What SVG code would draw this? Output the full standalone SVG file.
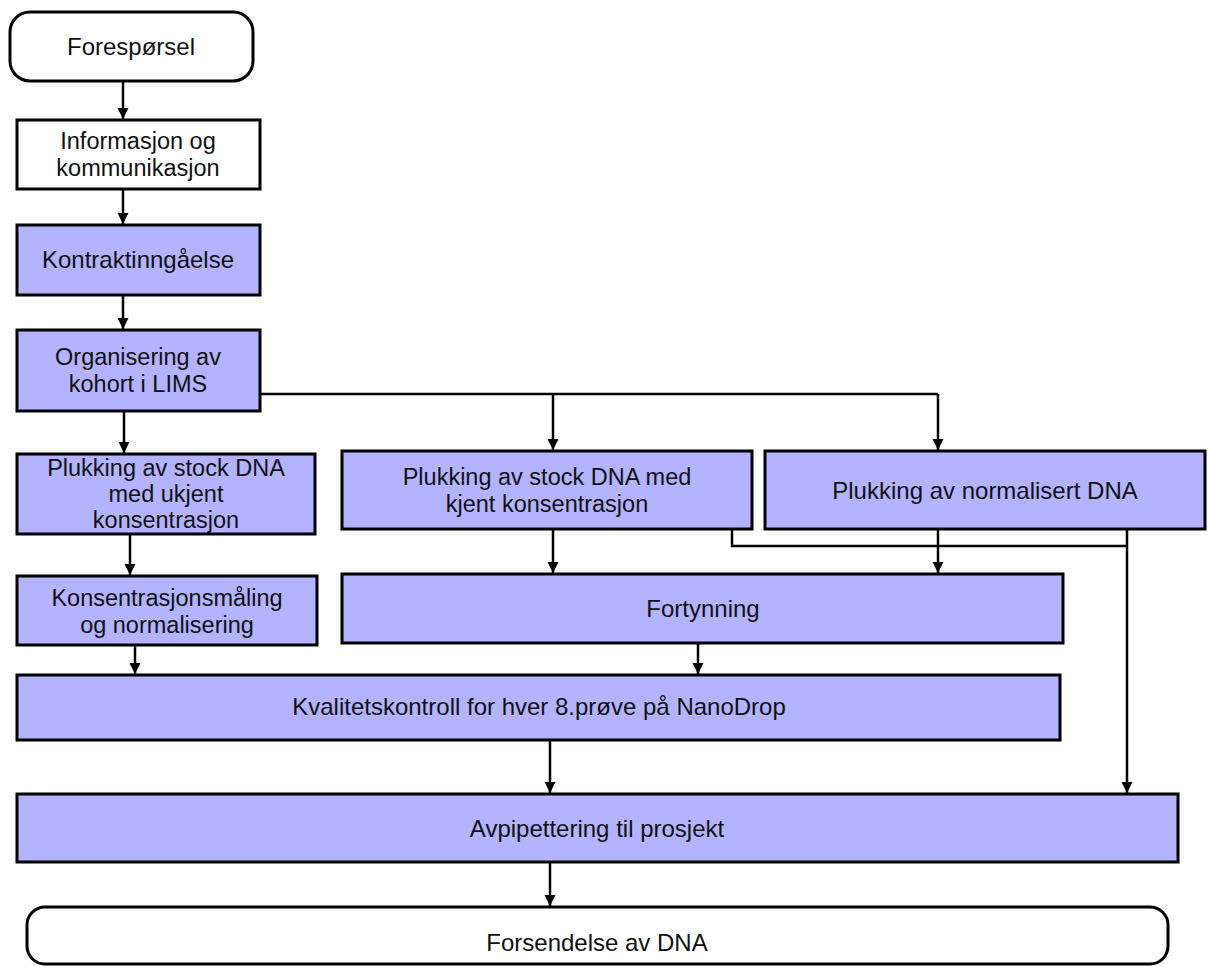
<svg xmlns="http://www.w3.org/2000/svg" width="1208" height="967" viewBox="0 0 1208 967">
<defs>
<marker id="ah" viewBox="0 0 10 10" refX="10" refY="5" markerWidth="11" markerHeight="13" markerUnits="userSpaceOnUse" orient="auto">
<path d="M0,0 L10,5 L0,10 z" fill="#000"/>
</marker>
<style>
.box{fill:#b3b3ff;stroke:#000;stroke-width:3}
.wbox{fill:#fff;stroke:#000;stroke-width:3}
.t{font-family:"Liberation Sans",Arial,sans-serif;font-size:24px;fill:#111;text-anchor:middle}
.m{font-size:23.5px}
.c{fill:none;stroke:#000;stroke-width:2.5}
.a{fill:none;stroke:#000;stroke-width:2.5;marker-end:url(#ah)}
</style>
</defs>
<rect width="1208" height="967" fill="#fff"/>
<g id="connectors">
<line class="a" x1="123" y1="81" x2="123" y2="119"/>
<line class="a" x1="123" y1="189" x2="123" y2="224"/>
<line class="a" x1="123" y1="295" x2="123" y2="329"/>
<line class="a" x1="124" y1="412" x2="124" y2="453"/>
<line class="c" x1="260" y1="394" x2="938" y2="394"/>
<line class="a" x1="553" y1="394" x2="553" y2="450"/>
<line class="a" x1="938" y1="394" x2="938" y2="450"/>
<line class="a" x1="130" y1="534" x2="130" y2="575"/>
<line class="a" x1="135" y1="645" x2="135" y2="674"/>
<line class="a" x1="553" y1="529" x2="553" y2="573"/>
<polyline class="c" points="732,529 732,546 1127,546"/>
<line class="a" x1="938" y1="529" x2="938" y2="573"/>
<line class="a" x1="1127" y1="529" x2="1127" y2="793"/>
<line class="a" x1="698" y1="643" x2="698" y2="674"/>
<line class="a" x1="550" y1="740" x2="550" y2="793"/>
<line class="a" x1="550" y1="862" x2="550" y2="906"/>
</g>
<g id="n1"><rect class="wbox" x="10" y="12" width="243" height="69" rx="20"/><text class="t" x="131" y="55">Forespørsel</text></g>
<g id="n2"><rect class="wbox" x="17" y="120" width="243" height="69"/><text class="t m" x="138" y="149">Informasjon og</text><text class="t m" x="138" y="175.5">kommunikasjon</text></g>
<g id="n3"><rect class="box" x="17" y="225" width="243" height="70"/><text class="t" x="138" y="268">Kontraktinngåelse</text></g>
<g id="n4"><rect class="box" x="17" y="330" width="243" height="81"/><text class="t m" x="138" y="365">Organisering av</text><text class="t m" x="138" y="391.5">kohort i LIMS</text></g>
<g id="n5"><rect class="box" x="17" y="454" width="298" height="80"/><text class="t m" x="166" y="476">Plukking av stock DNA</text><text class="t m" x="166" y="502">med ukjent</text><text class="t m" x="166" y="528">konsentrasjon</text></g>
<g id="n6"><rect class="box" x="17" y="576" width="300" height="69"/><text class="t m" x="167" y="606">Konsentrasjonsmåling</text><text class="t m" x="167" y="632.5">og normalisering</text></g>
<g id="n7"><rect class="box" x="342" y="451" width="410" height="78"/><text class="t m" x="547" y="485">Plukking av stock DNA med</text><text class="t m" x="547" y="511.5">kjent konsentrasjon</text></g>
<g id="n8"><rect class="box" x="765" y="451" width="440" height="78"/><text class="t" x="985" y="499">Plukking av normalisert DNA</text></g>
<g id="n9"><rect class="box" x="342" y="574" width="721" height="69"/><text class="t" x="703" y="617">Fortynning</text></g>
<g id="n10"><rect class="box" x="17" y="675" width="1043" height="65"/><text class="t" x="539" y="715">Kvalitetskontroll for hver 8.prøve på NanoDrop</text></g>
<g id="n11"><rect class="box" x="17" y="794" width="1161" height="68"/><text class="t" x="597" y="837">Avpipettering til prosjekt</text></g>
<g id="n12"><rect class="wbox" x="27" y="907" width="1141" height="57" rx="18"/><text class="t" x="597" y="951">Forsendelse av DNA</text></g>
</svg>
